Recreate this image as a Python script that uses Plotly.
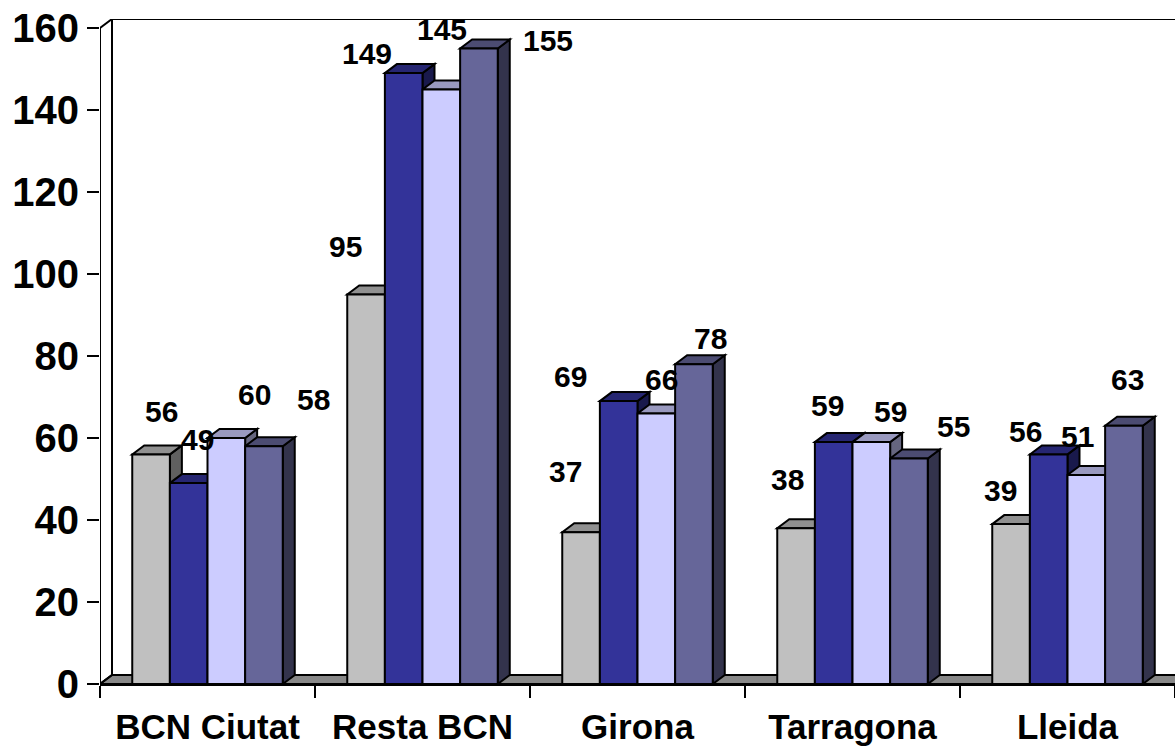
import plotly.graph_objects as go

# data
categories = ["BCN Ciutat", "Resta BCN", "Girona", "Tarragona", "Lleida"]
series_names = ["Sèrie 1", "Sèrie 2", "Sèrie 3", "Sèrie 4"]
serie_1 = [56, 95, 37, 38, 39]
serie_2 = [49, 149, 69, 59, 56]
serie_3 = [60, 145, 66, 59, 51]
serie_4 = [58, 155, 78, 55, 63]
y_ticks = [0, 20, 40, 60, 80, 100, 120, 140, 160]

series = [serie_1, serie_2, serie_3, serie_4]

# look
FRONT = ["#C0C0C0", "#333399", "#CCCCFF", "#666699"]
FONT = "Liberation Sans, Arial, sans-serif"

# label offsets in pixels from the top of each bar (dx, dy), Excel-style placement
LABEL_SHIFT = [
    [(10, -43), (-21, -48), (-16, -61), (-9, -49), (-11, -34)],
    [(9, -44), (-37, -20), (-48, -25), (-6, -37), (-23, -23)],
    [(28, -44), (1, -60), (5, -34), (19, -31), (-9, -38)],
    [(50, -47), (69, -8), (17, -26), (45, -32), (4, -46)],
]

W, H = 1175, 746
M_L, M_R, M_B = 100, 0, 62
PX_PER_Y = 656 / 160           # pixels per unit on the value axis
DEPTH_PX_X, DEPTH_PX_Y = 12, 9  # 3D depth of bars and walls
M_T = 28 - DEPTH_PX_Y
PX_PER_X = (W - M_L - M_R) / len(categories)
Y_TOP = (H - M_T - M_B) / PX_PER_Y

DX = DEPTH_PX_X / PX_PER_X
DY = DEPTH_PX_Y / PX_PER_Y
BARGAP = 0.3
BAR_W = (1 - BARGAP) / len(series)


def shade(hex_color, k):
    r, g, b = (int(hex_color[i:i + 2], 16) for i in (1, 3, 5))
    return "#%02x%02x%02x" % (int(r * k), int(g * k), int(b * k))


def poly(points):
    return "M " + " L ".join(f"{x},{y}" for x, y in points) + " Z"


fig = go.Figure()
for j, vals in enumerate(series):
    fig.add_trace(go.Bar(
        x=categories, y=vals, name=series_names[j],
        marker=dict(color=FRONT[j], line=dict(color="black", width=2)),
        hoverinfo="x+y",
    ))

shapes = []
# floor
shapes.append(dict(
    type="path", xref="x", yref="y", layer="below",
    path=poly([(-0.5, 0), (len(categories), 0), (len(categories), DY), (-0.5 + DX, DY)]),
    fillcolor="#888888", line=dict(color="black", width=2),
))
# back wall edges
shapes.append(dict(type="line", xref="x", yref="y", layer="below",
                   x0=-0.5 + DX, y0=DY, x1=-0.5 + DX, y1=160 + DY,
                   line=dict(color="black", width=2)))
shapes.append(dict(type="line", xref="x", yref="y", layer="below",
                   x0=-0.5 + DX, y0=160 + DY, x1=len(categories), y1=160 + DY,
                   line=dict(color="black", width=2)))
shapes.append(dict(type="line", xref="x", yref="y", layer="below",
                   x0=-0.5, y0=160, x1=-0.5 + DX, y1=160 + DY,
                   line=dict(color="black", width=2)))
shapes.append(dict(type="line", xref="x", yref="y", layer="below",
                   x0=-0.5, y0=0, x1=-0.5 + DX, y1=DY,
                   line=dict(color="black", width=2)))

sides, tops = [], []
annotations = []
for j, vals in enumerate(series):
    for i, v in enumerate(vals):
        left = i - (1 - BARGAP) / 2 + j * BAR_W
        right = left + BAR_W
        sides.append(dict(
            type="path", xref="x", yref="y", layer="below",
            path=poly([(right, 0), (right + DX, DY), (right + DX, v + DY), (right, v)]),
            fillcolor=shade(FRONT[j], 0.5), line=dict(color="black", width=2),
        ))
        tops.append(dict(
            type="path", xref="x", yref="y", layer="below",
            path=poly([(left, v), (right, v), (right + DX, v + DY), (left + DX, v + DY)]),
            fillcolor=shade(FRONT[j], 0.75), line=dict(color="black", width=2),
        ))
        sx, sy = LABEL_SHIFT[j][i]
        annotations.append(dict(
            x=(left + right) / 2, y=v, xref="x", yref="y",
            text=str(v), showarrow=False,
            xanchor="center", yanchor="middle",
            xshift=sx, yshift=-sy,
            font=dict(family=FONT, size=30, color="black", weight="bold"),
        ))
# front y axis line
shapes.append(dict(type="line", xref="x", yref="y",
                   x0=-0.5, y0=0, x1=-0.5, y1=160,
                   line=dict(color="black", width=2)))

fig.update_layout(
    shapes=shapes[:-1] + sides + tops + shapes[-1:],
    annotations=annotations,
    barmode="group",
    bargap=BARGAP,
    bargroupgap=0,
    showlegend=False,
    width=W, height=H,
    margin=dict(l=M_L, r=M_R, t=M_T, b=M_B, pad=0),
    paper_bgcolor="white",
    plot_bgcolor="white",
    font=dict(family=FONT, color="black"),
    xaxis=dict(
        range=[-0.5, len(categories) - 0.5],
        automargin=False,
        showline=True, linecolor="black", linewidth=2,
        ticks="outside", ticklen=12, tickwidth=2, tickcolor="black",
        tickson="boundaries",
        ticklabelstandoff=11,
        showgrid=False, zeroline=False,
        tickfont=dict(family=FONT, size=35, color="black", weight="bold"),
    ),
    yaxis=dict(
        range=[0, Y_TOP],
        automargin=False,
        tickvals=y_ticks,
        showline=False,
        ticks="outside", ticklen=12, tickwidth=2, tickcolor="black",
        showgrid=False, zeroline=False,
        ticklabelstandoff=0,
        tickfont=dict(family=FONT, size=40, color="black", weight="bold"),
    ),
)

# drop the page's default body margin so the chart sits at the window corner
fig.write_html("out.html", config={"displayModeBar": False},
               post_script="document.body.style.margin='0';")
